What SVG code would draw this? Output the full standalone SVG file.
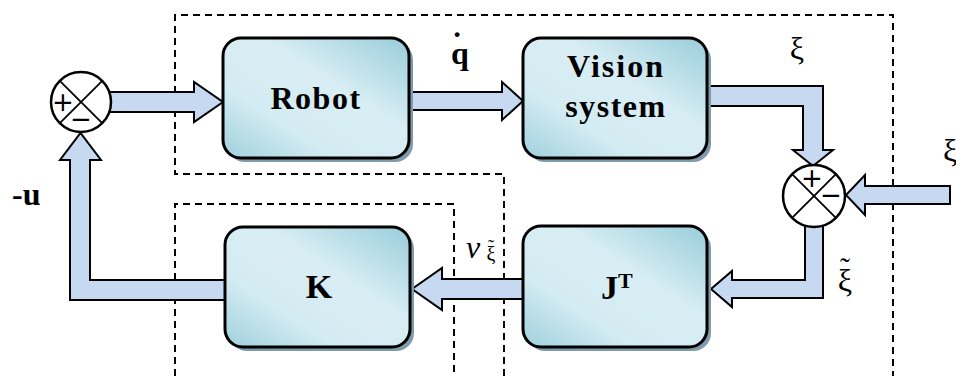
<svg xmlns="http://www.w3.org/2000/svg" width="956" height="376" viewBox="0 0 956 376">
<style>
.box{fill:url(#g);stroke:#000;stroke-width:3}
.shadow{fill:#7e9aab;stroke:none}
.band{fill:#c6d9f1;stroke:#000;stroke-width:2;stroke-linejoin:miter}
.dash{fill:none;stroke:#000;stroke-width:2;stroke-dasharray:7,5}
.sum{fill:#fff;stroke:#000;stroke-width:2.5}
.x{stroke:#000;stroke-width:1.8}
.t{font-family:"Liberation Serif","Times New Roman",serif;font-weight:bold;fill:#000}
.m{font-family:"Liberation Serif","Times New Roman",serif;fill:#000}
.s{font-family:"DejaVu Sans","Liberation Sans",sans-serif;fill:#000}
</style>
<defs>
<linearGradient id="g" x1="0" y1="1" x2="1" y2="0">
<stop offset="0" stop-color="#9fd0dd"/>
<stop offset="0.3" stop-color="#d3ebf2"/>
<stop offset="0.6" stop-color="#d9eef4"/>
<stop offset="1" stop-color="#98cdda"/>
</linearGradient>
</defs>
<g id="dashed">
<path class="dash" d="M504,376 L504,174 L175,174 L175,15 L893,15 L893,376"/>
<path class="dash" d="M175,376 L175,204 L454,204 L454,376"/>
</g>
<g id="connectors">
<polygon class="band" points="108,92 194,92 194,82 223,102 194,122 194,112 108,112"/>
<polygon class="band" points="409,92 502,92 502,82 523,101 502,120 502,110 409,110"/>
<polygon class="band" points="707,86 823,86 823,150 833,150 813,166 793,150 803,150 803,106 707,106"/>
<polygon class="band" points="950,186 865,186 865,175 846,195 865,215 865,204 950,204"/>
<polygon class="band" points="805,222 823,222 823,298 732,298 732,307 711,289 732,271 732,280 805,280"/>
<polygon class="band" points="523,279 442,279 442,268 412,289 442,310 442,299 523,299"/>
<polygon class="band" points="225,280 90,280 90,160 101,160 80.5,133 60,160 70,160 70,300 225,300"/>
</g>
<g id="sum1">
<circle class="sum" cx="81" cy="102" r="30"/>
<line class="x" x1="59.8" y1="80.8" x2="102.2" y2="123.2"/>
<line class="x" x1="102.2" y1="80.8" x2="59.8" y2="123.2"/>
<text class="s" x="63" y="111" font-size="26" text-anchor="middle">+</text>
<text class="s" x="81" y="128" font-size="26" text-anchor="middle">−</text>
</g>
<g id="sum2">
<circle class="sum" cx="814" cy="196" r="31"/>
<line class="x" x1="792.1" y1="174.1" x2="835.9" y2="217.9"/>
<line class="x" x1="835.9" y1="174.1" x2="792.1" y2="217.9"/>
<text class="s" x="812" y="187" font-size="26" text-anchor="middle">+</text>
<text class="s" x="831" y="204" font-size="26" text-anchor="middle">−</text>
</g>
<g id="robot">
<rect class="shadow" x="227" y="42" width="186" height="120" rx="18"/>
<rect class="box" x="223" y="38" width="186" height="120" rx="18"/>
<text class="t" x="316" y="109" font-size="32" text-anchor="middle" letter-spacing="1.5">Robot</text>
</g>
<g id="vision">
<rect class="shadow" x="527" y="42" width="184" height="120" rx="18"/>
<rect class="box" x="523" y="38" width="184" height="120" rx="18"/>
<text class="t" x="616" y="77" font-size="32" text-anchor="middle" letter-spacing="2">Vision</text>
<text class="t" x="616" y="117" font-size="32" text-anchor="middle" letter-spacing="1.5">system</text>
</g>
<g id="K">
<rect class="shadow" x="229" y="231" width="185" height="120" rx="18"/>
<rect class="box" x="225" y="227" width="185" height="120" rx="18"/>
<text class="t" x="319" y="298" font-size="34" text-anchor="middle">K</text>
</g>
<g id="JT">
<rect class="shadow" x="527" y="230" width="184" height="121" rx="18"/>
<rect class="box" x="523" y="226" width="184" height="121" rx="18"/>
<text class="t" x="601" y="299" font-size="34">J<tspan font-size="22" dy="-11">T</tspan></text>
</g>
<g id="labels">
<text class="t" font-size="32" text-anchor="middle"><tspan x="460" y="64">q</tspan><tspan x="457" y="54">˙</tspan></text>
<text class="m" x="797" y="59" font-size="32" text-anchor="middle">ξ</text>
<text class="m" x="943" y="161" font-size="32">ξ</text>
<text class="m" font-size="32" text-anchor="middle"><tspan x="845" y="291">ξ</tspan><tspan x="845" y="278" font-size="30">˜</tspan></text>
<text class="m" font-size="32"><tspan x="466" y="258" font-style="italic">ν</tspan><tspan x="491" y="261" font-size="20" text-anchor="middle">ξ</tspan><tspan x="491" y="253" font-size="18" text-anchor="middle">˜</tspan></text>
<text class="t" x="12" y="205" font-size="32">-u</text>
</g>
</svg>
